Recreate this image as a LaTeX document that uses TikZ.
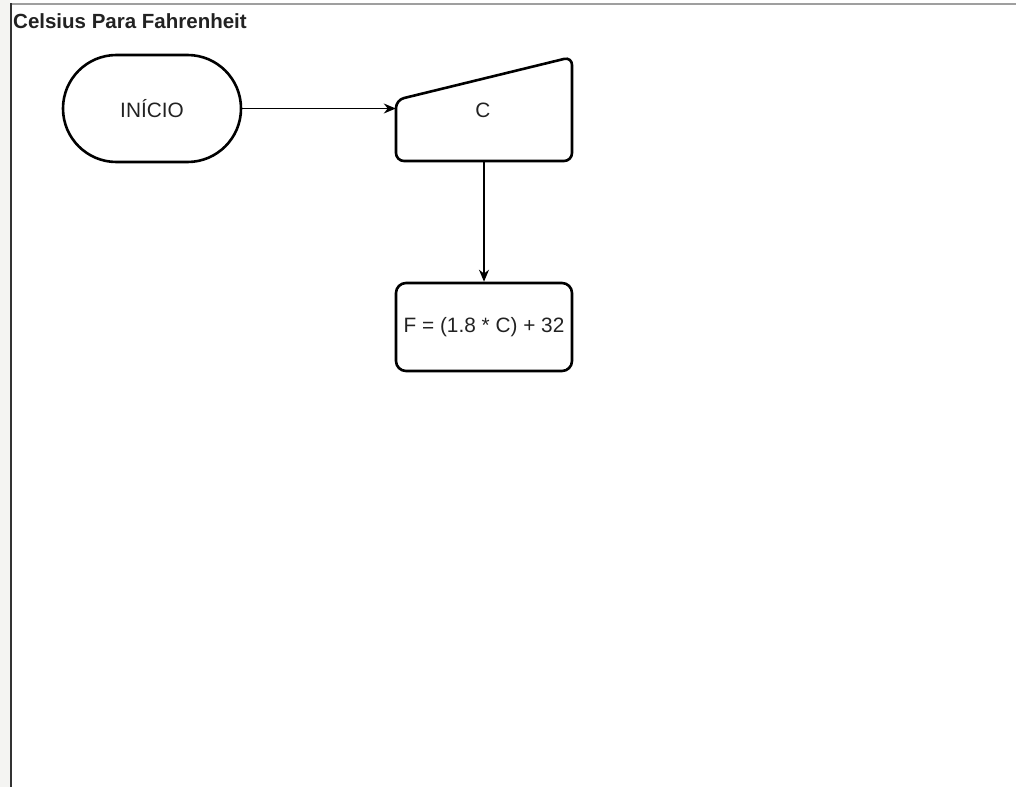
\documentclass[tikz,border=0pt]{standalone}
\usepackage{fontspec}
\setmainfont{Liberation Sans}
\usetikzlibrary{arrows.meta}
\definecolor{txt}{HTML}{222222}
\definecolor{strip}{HTML}{F4F4F2}
\tikzset{
  shapeline/.style={draw=black, line width=2.6pt},
  lbl/.style={font=\fontsize{20.8}{25}\selectfont, text=txt},
  term/.style={shapeline, lbl, minimum width=178pt, minimum height=107pt, rounded corners=53.5pt, inner sep=0pt},
  procbox/.style={shapeline, lbl, minimum width=176pt, minimum height=88pt, rounded corners=10pt, inner sep=0pt},
  plain/.style={lbl, minimum width=176pt, minimum height=104pt, inner sep=0pt},
  conn/.style={draw=black, line width=1.4pt, -{Stealth[length=12pt, width=10pt]}}
}
\begin{document}
\begin{tikzpicture}[x=1pt, y=-1pt]
\useasboundingbox (0,0) rectangle (1016,787);
\fill[strip] (0,0) rectangle (10,787);
\draw[line width=2pt, gray!75] (10,3.5) -- (1016,3.5);
\draw[line width=2pt, black!80] (11,3) -- (11,787);
\node[anchor=base west, inner sep=0pt, font=\bfseries\fontsize{20.5}{24}\selectfont, text=txt] (title) at (13,28) {Celsius Para Fahrenheit};
\node[term] (start) at (152,108.5) {INÍCIO};
\node[plain] (c) at (484,109) {};
\draw[shapeline, rounded corners=8pt] (396,161) -- (396,100) -- (572,57) -- (572,161) -- cycle;
\node[lbl] (ctext) at (483,110) {C};
\node[procbox] (proc) at (484,327) {F = (1.8 * C) + 32};
\draw[conn] (start.east) -- (start.east -| c.west);
\draw[conn] (c.south) -- (proc.north);
\end{tikzpicture}
\end{document}
